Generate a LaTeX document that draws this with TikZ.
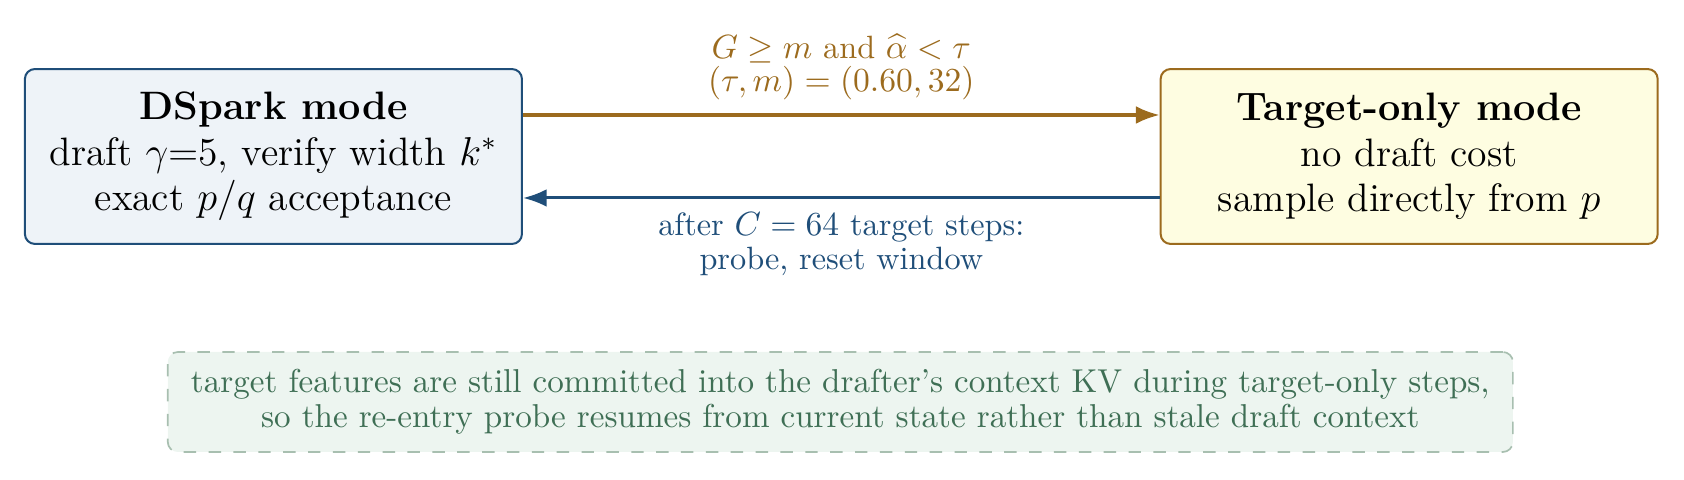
\documentclass[tikz,border=0pt]{standalone}
\usepackage{amsmath}
\usepackage{amssymb}
\usepackage{tikz}
\usepackage{xcolor}
\usetikzlibrary{arrows,arrows.meta,calc,positioning,shapes}

\definecolor{dsparkblue}{HTML}{1F4E79}
\definecolor{dsparkfill}{HTML}{EEF3F8}
\definecolor{targetgold}{HTML}{9C6B1E}
\definecolor{targetfill}{HTML}{FEFDE1}
\definecolor{notegreen}{HTML}{3F6F55}
\definecolor{noteedge}{HTML}{A8BFB0}
\definecolor{notefill}{HTML}{EDF5F0}

\begin{document}
\begin{tikzpicture}[font=\fontsize{11.8}{13.6}\selectfont,every text node part/.style={align=center},
	modebox/.style={rectangle,rounded corners=3pt,line width=0.6pt,minimum width=5.2cm,minimum height=1.83cm,inner sep=0pt},
	labeltext/.style={font=\fontsize{9.6}{10}\selectfont,inner sep=0pt},
	notebox/.style={rectangle,rounded corners=3pt,dash pattern=on 3.7pt off 3.7pt,line width=0.5pt,minimum width=14.07cm,minimum height=1.046cm,inner sep=0pt,font=\fontsize{9.85}{10.4}\selectfont},
	modearrow/.style={line width=0.9pt,-Latex}]
	\useasboundingbox (0,0) rectangle (17.615,-5.011);

	\node (dspark) at (2.86,-1.637) [modebox,draw=dsparkblue,fill=dsparkfill] {\textbf{DSpark mode}\\draft $\gamma$=5, verify width $k^{*}$\\exact $p/q$ acceptance};
	\node (target) at (14.74,-1.637) [modebox,draw=targetgold,fill=targetfill] {\textbf{Target-only mode}\\no draft cost\\sample directly from $p$};

	\draw[modearrow,targetgold] ([yshift=0.434cm]dspark.east) -- ([yshift=0.434cm]target.west)
		node[midway,yshift=0.5cm,labeltext,text=targetgold] {$G \geq m$ and $\widehat{\alpha} < \tau$\\$(\tau, m) = (0.60, 32)$};
	\draw[modearrow,dsparkblue] ([yshift=-0.434cm]target.west) -- ([yshift=-0.434cm]dspark.east)
		node[midway,yshift=-0.48cm,labeltext,text=dsparkblue] {after $C = 64$ target steps:\\probe, reset window};

	\node (note) at (8.79,-4.205) [notebox,draw=noteedge,fill=notefill,text=notegreen] {target features are still committed into the drafter's context KV during target-only steps,\\so the re-entry probe resumes from current state rather than stale draft context};
\end{tikzpicture}
\end{document}
